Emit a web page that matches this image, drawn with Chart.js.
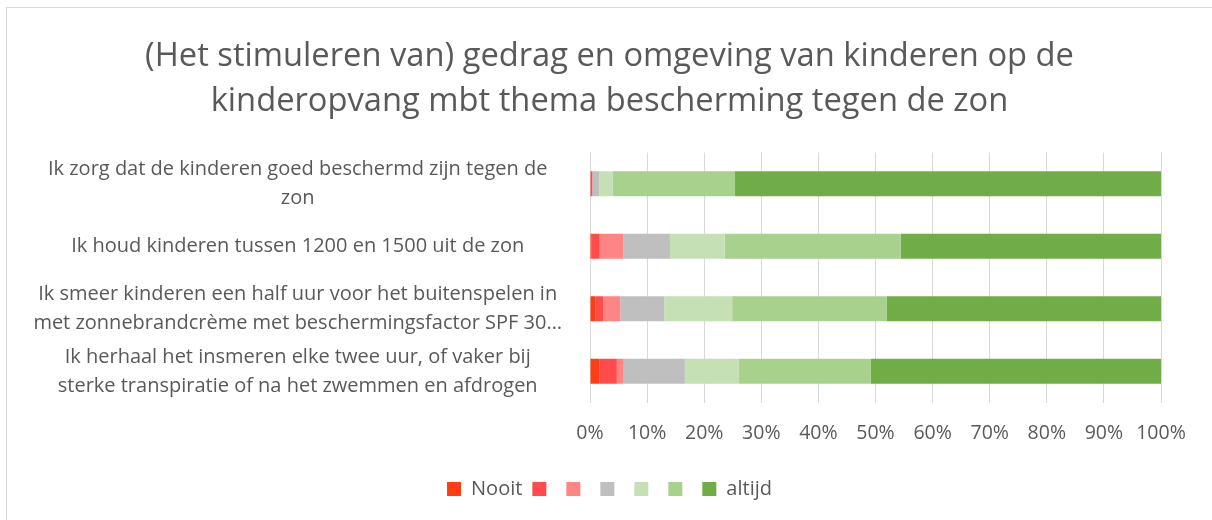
<!DOCTYPE html>
<html>
<head>
<meta charset="utf-8">
<script src="https://cdn.jsdelivr.net/npm/chart.js@4"></script>
<style>
  body { margin: 0; background: #fff; overflow: hidden; }
  #wrap { position: absolute; left: 6px; top: 7px; width: 1205px; height: 512px;
          border-left: 1px solid #d9d9d9; border-top: 1px solid #d9d9d9; }
</style>
</head>
<body>
<div id="wrap"><canvas id="draw-on-me"></canvas></div>
<script>
const categories = [
  ['Ik zorg dat de kinderen goed beschermd zijn tegen de', 'zon'],
  ['Ik houd kinderen tussen 1200 en 1500 uit de zon'],
  ['Ik smeer kinderen een half uur voor het buitenspelen in', 'met zonnebrandcrème met beschermingsfactor SPF 30…'],
  ['Ik herhaal het insmeren elke twee uur, of vaker bij', 'sterke transpiratie of na het zwemmen en afdrogen']
]
const seriesNames = ['Nooit', '', '', '', '', '', 'altijd']
// percentages per category, one array per answer step
const nooit   = [0,    0.3,  1.0,  1.7]
const stap2   = [0.4,  1.4,  1.3,  3.0]
const stap3   = [0,    4.1,  3.0,  1.2]
const stap4   = [1.2,  8.2,  7.7, 10.7]
const stap5   = [2.4,  9.6, 11.9,  9.5]
const stap6   = [21.4, 30.8, 27.1, 23.1]
const altijd  = [74.6, 45.6, 48.0, 50.8]
const xTicks = [0, 10, 20, 30, 40, 50, 60, 70, 80, 90, 100]

const colors = ['#FF3D14', '#FF4B4B', '#FF8585', '#BFBFBF', '#C5E0B4', '#A9D18E', '#70AD47']
const values = [nooit, stap2, stap3, stap4, stap5, stap6, altijd]

const font = 'Open Sans'
const grey = '#595959'

const ctx = document.getElementById('draw-on-me').getContext('2d')
const myChart = new Chart(ctx, {
  type: 'bar',
  data: {
    labels: categories,
    datasets: values.map((v, i) => ({
      label: seriesNames[i],
      data: v,
      yAxisID: 'y',
      backgroundColor: colors[i],
      borderWidth: 0,
      barPercentage: 0.5,
      categoryPercentage: 0.8
    }))
  },
  options: {
    indexAxis: 'y',
    responsive: true,
    maintainAspectRatio: false,
    animation: false,
    layout: { padding: { top: 14, left: 10, right: 10, bottom: 11 } },
    plugins: {
      title: {
        display: true,
        text: ['(Het stimuleren van) gedrag en omgeving van kinderen op de', 'kinderopvang mbt thema bescherming tegen de zon'],
        color: grey,
        font: { family: font, size: 32.7, weight: 'normal', lineHeight: 1.385 },
        padding: { top: 12, bottom: 28 }
      },
      legend: {
        position: 'bottom',
        labels: {
          color: grey,
          boxWidth: 14,
          boxHeight: 14,
          padding: 10,
          font: { family: font, size: 20 }
        }
      },
      tooltip: { enabled: false }
    },
    scales: {
      x: {
        stacked: true,
        min: 0,
        max: 100,
        afterBuildTicks: (s) => { s.ticks = xTicks.map(v => ({ value: v })) },
        afterFit: (s) => { s.height += 5 },
        grid: { color: '#d9d9d9', drawTicks: false },
        border: { display: false },
        ticks: { color: grey, padding: 19, font: { family: font, size: 19.5 }, callback: (v) => v + '%' }
      },
      y: {
        stacked: true,
        grid: { display: false },
        border: { display: false },
        afterFit: (s) => { s.width = 573 },
        ticks: { color: grey, crossAlign: 'center', padding: 20, font: { family: font, size: 20, lineHeight: 1.45 } }
      },
      // empty axis on the right, only there to keep the plot off the right edge
      yRight: {
        position: 'right',
        type: 'category',
        labels: categories.map(() => ''),
        grid: { display: false },
        border: { display: false },
        ticks: { display: false },
        afterFit: (s) => { s.width = 41 }
      }
    }
  }
})
</script>
</body>
</html>
